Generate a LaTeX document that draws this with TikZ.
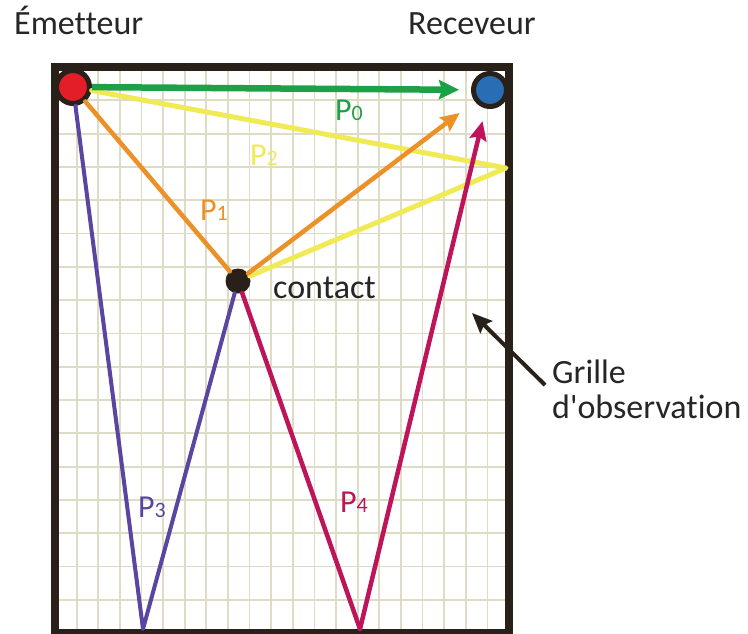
\documentclass[tikz,border=0pt]{standalone}
\usepackage{fontspec}
\setmainfont{Carlito}[Ligatures=NoCommon]
\usetikzlibrary{arrows.meta}
\definecolor{framec}{RGB}{40,32,25}
\definecolor{gridc}{RGB}{222,220,196}
\definecolor{pgreen}{RGB}{30,160,70}
\definecolor{pyellow}{RGB}{240,235,85}
\definecolor{porange}{RGB}{235,145,40}
\definecolor{ppurple}{RGB}{90,70,160}
\definecolor{pmagenta}{RGB}{190,20,90}
\definecolor{pred}{RGB}{228,30,40}
\definecolor{pblue}{RGB}{40,110,180}
\tikzset{
  bigtext/.style={font=\fontsize{34}{36}\selectfont, inner sep=0pt, text=black!85},
  plab/.style={font=\fontsize{32}{34}\selectfont, inner sep=0pt, anchor=base west},
  dot/.style={circle, draw=framec, line width=5pt, minimum size=33pt, inner sep=0pt},
  ray/.style={line width=4.5pt, line cap=round, line join=round},
  tipA/.style={-{Stealth[length=19pt,width=17pt,inset=3pt]}},
}
\newcommand{\sub}[1]{{\fontsize{22}{22}\selectfont #1}}
\begin{document}
\begin{tikzpicture}[x=1pt,y=-1pt]
\useasboundingbox (0,0) rectangle (748,633);
\fill[white] (0,0) rectangle (748,633);
% grid
\foreach \k in {1,...,20} \draw[gridc, line width=1.8pt] ({55+21.62*\k},67) -- ({55+21.62*\k},633);
\foreach \k in {1,...,16} \draw[gridc, line width=1.8pt] (55,{67+33.3*\k}) -- (509,{67+33.3*\k});
% frame
\draw[framec, line width=8pt] (55,640) -- (55,67) -- (509,67) -- (509,640);
\draw[framec, line width=8pt] (51,633) -- (513,633);
% nodes
\node[dot, fill=pred] (em) at (73,87) {};
\node[dot, fill=pblue] (rc) at (490,90) {};
\node[circle, fill=framec, minimum size=25pt, inner sep=0pt] (ct) at (238,281) {};
\coordinate (w2) at (506,168);
\coordinate (b3) at (143,629);
\coordinate (b4) at (360,629);
% rays
\draw[ray, pyellow, line width=5pt] (em) -- (w2) -- (ct);
\draw[ray, porange] (em) -- (ct);
\draw[ray, porange, tipA, shorten >=19pt] (ct) -- (rc);
\draw[ray, ppurple, line width=4pt] (em) -- (b3) -- (ct);
\draw[ray, pmagenta] (ct) -- (b4);
\draw[ray, pmagenta, tipA, shorten >=13pt] (b4) -- (rc);
\draw[ray, pgreen, line width=6.5pt, line cap=butt, -{Stealth[length=20pt,width=19pt,inset=3pt]}, shorten >=12pt] (em) -- (rc);
% labels
\node[plab, text=pgreen] (l0) at (335,120) {P\sub{0}};
\node[plab, text=pyellow] (l2) at (250,165) {P\sub{2}};
\node[plab, text=porange] (l1) at (200,220) {P\sub{1}};
\node[plab, text=ppurple] (l3) at (138,517) {P\sub{3}};
\node[plab, text=pmagenta] (l4) at (340,512) {P\sub{4}};
% texts
\node[bigtext, anchor=base west] (temit) at (14,34) {Émetteur};
\node[bigtext, anchor=base west] (trec) at (408,34) {Receveur};
\node[bigtext, anchor=base west] (tct) at (273,298) {contact};
\node[bigtext, anchor=base west] (tg1) at (552,383) {Grille};
\node[bigtext, anchor=base west] (tg2) at (552,418) {d\textquotesingle observation};
\coordinate (gtail) at (545,385);
\coordinate (gtip) at (472,313);
\draw[framec, line width=4pt, -{Stealth[length=20pt,width=17pt,inset=3pt]}] (gtail) -- (gtip);
\end{tikzpicture}
\end{document}
